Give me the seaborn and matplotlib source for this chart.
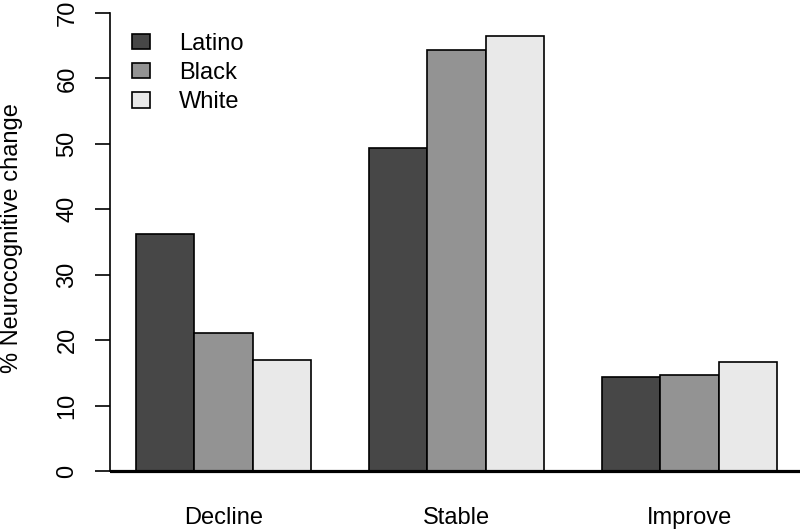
import matplotlib
matplotlib.use("Agg")
import matplotlib.pyplot as plt
import pandas as pd
import numpy as np
import seaborn as sns

# values (% per outcome and group)
outcomes = ["Decline", "Stable", "Improve"]
groups = ["Latino", "Black", "White"]
latino = [36.2, 49.4, 14.4]
black = [21.1, 64.4, 14.6]
white = [17.0, 66.5, 16.6]
colors = ["#474747", "#939393", "#e9e9e9"]

df = pd.DataFrame({
    "outcome": outcomes * 3,
    "group": np.repeat(groups, 3),
    "pct": latino + black + white,
})

sns.set_style("white")
plt.rcParams["font.family"] = ["Liberation Sans", "DejaVu Sans"]
for k in ["text.color", "axes.labelcolor", "xtick.color", "ytick.color"]:
    plt.rcParams[k] = "black"

W, H = 800, 529
fs = 17
fig = plt.figure(figsize=(8, 5.29), dpi=100)
# plot region in pixels: x 110.4..802.6, y(top) -5.3..489.3
ax = fig.add_axes([110.4 / W, 1 - 489.3 / H, 692.2 / W, 494.6 / H])

sns.barplot(data=df, x="outcome", y="pct", hue="group", order=outcomes,
            hue_order=groups, palette=colors, saturation=1, width=0.75,
            gap=0, edgecolor="black", linewidth=1.2, ax=ax, errorbar=None)

ax.set_xlim(-0.485, 2.485)
ax.set_ylim(-2.8, 72.8)
ax.axhline(0, color="black", lw=2.3, zorder=5)

for s in ["top", "right", "bottom"]:
    ax.spines[s].set_visible(False)
ax.spines["left"].set_bounds(0, 70)
ax.spines["left"].set_linewidth(1.2)
ax.spines["left"].set_color("black")

ax.set_yticks(range(0, 71, 10))
ax.tick_params(axis="y", direction="out", length=11, width=1.2, pad=12,
               labelsize=fs, left=True)
for t in ax.get_yticklabels():
    t.set_rotation(90)
    t.set_va("center")
ax.tick_params(axis="x", length=0, pad=13, labelsize=fs)
ax.set_xlabel("")
ax.set_ylabel("")
fig.text(12 / W, 1 - 238 / H, "% Neurocognitive change", rotation=90,
         ha="center", va="center", fontsize=fs)

handles, labels = ax.get_legend_handles_labels()
ax.legend(handles, labels, loc="upper left", frameon=False, fontsize=fs,
          bbox_to_anchor=(132 / W, 1 - 33 / H), bbox_transform=fig.transFigure,
          borderaxespad=0, borderpad=0, handlelength=0.78, handleheight=0.62,
          handletextpad=1.2, labelspacing=0.3)

fig.savefig("out.png", dpi=100)
